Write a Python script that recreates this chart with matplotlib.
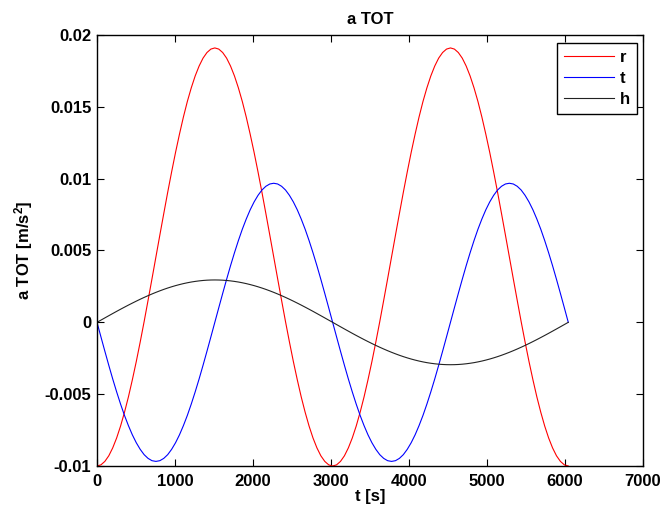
import numpy as np
import matplotlib
matplotlib.use("Agg")
import matplotlib.pyplot as plt

plt.rcParams['font.family'] = ['Liberation Sans', 'DejaVu Sans']
plt.rcParams['font.weight'] = 'bold'
plt.rcParams['font.size'] = 12
plt.rcParams['mathtext.fontset'] = 'custom'
plt.rcParams['mathtext.rm'] = 'Liberation Sans:bold'
plt.rcParams['mathtext.default'] = 'rm'

# sample times [s]
t_end = 6042
n_samples = 121
t = np.linspace(0, t_end, n_samples)

r_vals = [
    -0.01000, -0.00992, -0.00968, -0.00929, -0.00874, -0.00805, -0.00722, -0.00626,
    -0.00519, -0.00400, -0.00273, -0.00137, 0.00005, 0.00153, 0.00303, 0.00455,
    0.00607, 0.00757, 0.00905, 0.01047, 0.01183, 0.01310, 0.01429, 0.01537,
    0.01632, 0.01715, 0.01784, 0.01839, 0.01878, 0.01902, 0.01910, 0.01902,
    0.01878, 0.01839, 0.01784, 0.01715, 0.01632, 0.01537, 0.01429, 0.01310,
    0.01183, 0.01047, 0.00905, 0.00757, 0.00607, 0.00455, 0.00303, 0.00153,
    0.00005, -0.00137, -0.00273, -0.00400, -0.00519, -0.00626, -0.00722, -0.00805,
    -0.00874, -0.00929, -0.00968, -0.00992,
    -0.01000, -0.00992, -0.00968, -0.00929, -0.00874, -0.00805, -0.00722, -0.00626,
    -0.00519, -0.00400, -0.00273, -0.00137, 0.00005, 0.00153, 0.00303, 0.00455,
    0.00607, 0.00757, 0.00905, 0.01047, 0.01183, 0.01310, 0.01429, 0.01537,
    0.01632, 0.01715, 0.01784, 0.01839, 0.01878, 0.01902, 0.01910, 0.01902,
    0.01878, 0.01839, 0.01784, 0.01715, 0.01632, 0.01537, 0.01429, 0.01310,
    0.01183, 0.01047, 0.00905, 0.00757, 0.00607, 0.00455, 0.00303, 0.00153,
    0.00005, -0.00137, -0.00273, -0.00400, -0.00519, -0.00626, -0.00722, -0.00805,
    -0.00874, -0.00929, -0.00968, -0.00992,
    -0.01000]

t_vals = [
    0.0, -0.00101, -0.00201, -0.00299, -0.00394, -0.00484, -0.00569, -0.00648,
    -0.00719, -0.00783, -0.00838, -0.00884, -0.00921, -0.00947, -0.00963, -0.00968,
    -0.00963, -0.00947, -0.00921, -0.00884, -0.00838, -0.00783, -0.00719, -0.00648,
    -0.00569, -0.00484, -0.00394, -0.00299, -0.00201, -0.00101, 0.0, 0.00101,
    0.00201, 0.00299, 0.00394, 0.00484, 0.00569, 0.00648, 0.00719, 0.00783,
    0.00838, 0.00884, 0.00921, 0.00947, 0.00963, 0.00968, 0.00963, 0.00947,
    0.00921, 0.00884, 0.00838, 0.00783, 0.00719, 0.00648, 0.00569, 0.00484,
    0.00394, 0.00299, 0.00201, 0.00101,
    0.0, -0.00101, -0.00201, -0.00299, -0.00394, -0.00484, -0.00569, -0.00648,
    -0.00719, -0.00783, -0.00838, -0.00884, -0.00921, -0.00947, -0.00963, -0.00968,
    -0.00963, -0.00947, -0.00921, -0.00884, -0.00838, -0.00783, -0.00719, -0.00648,
    -0.00569, -0.00484, -0.00394, -0.00299, -0.00201, -0.00101, 0.0, 0.00101,
    0.00201, 0.00299, 0.00394, 0.00484, 0.00569, 0.00648, 0.00719, 0.00783,
    0.00838, 0.00884, 0.00921, 0.00947, 0.00963, 0.00968, 0.00963, 0.00947,
    0.00921, 0.00884, 0.00838, 0.00783, 0.00719, 0.00648, 0.00569, 0.00484,
    0.00394, 0.00299, 0.00201, 0.00101,
    0.0]

h_vals = [
    0.0, 0.000154, 0.000308, 0.000461, 0.000613, 0.000764, 0.000912, 0.001057,
    0.001200, 0.001339, 0.001475, 0.001607, 0.001734, 0.001856, 0.001974, 0.002086,
    0.002192, 0.002293, 0.002387, 0.002474, 0.002555, 0.002628, 0.002695, 0.002754,
    0.002806, 0.002849, 0.002885, 0.002914, 0.002934, 0.002946, 0.002950, 0.002946,
    0.002934, 0.002914, 0.002885, 0.002849, 0.002806, 0.002754, 0.002695, 0.002628,
    0.002555, 0.002474, 0.002387, 0.002293, 0.002192, 0.002086, 0.001974, 0.001856,
    0.001734, 0.001607, 0.001475, 0.001339, 0.001200, 0.001057, 0.000912, 0.000764,
    0.000613, 0.000461, 0.000308, 0.000154,
    0.0, -0.000154, -0.000308, -0.000461, -0.000613, -0.000764, -0.000912, -0.001057,
    -0.001200, -0.001339, -0.001475, -0.001607, -0.001734, -0.001856, -0.001974, -0.002086,
    -0.002192, -0.002293, -0.002387, -0.002474, -0.002555, -0.002628, -0.002695, -0.002754,
    -0.002806, -0.002849, -0.002885, -0.002914, -0.002934, -0.002946, -0.002950, -0.002946,
    -0.002934, -0.002914, -0.002885, -0.002849, -0.002806, -0.002754, -0.002695, -0.002628,
    -0.002555, -0.002474, -0.002387, -0.002293, -0.002192, -0.002086, -0.001974, -0.001856,
    -0.001734, -0.001607, -0.001475, -0.001339, -0.001200, -0.001057, -0.000912, -0.000764,
    -0.000613, -0.000461, -0.000308, -0.000154,
    0.0]

assert len(r_vals) == n_samples and len(t_vals) == n_samples and len(h_vals) == n_samples

x_ticks = [0, 1000, 2000, 3000, 4000, 5000, 6000, 7000]
y_ticks = [-0.01, -0.005, 0, 0.005, 0.01, 0.015, 0.02]
y_tick_labels = ['-0.01', '-0.005', '0', '0.005', '0.01', '0.015', '0.02']

fig = plt.figure(figsize=(6.63, 5.14), dpi=100)
ax = fig.add_axes([97/663, 48/514, 546/663, 431/514])

ax.plot(t, r_vals, color='#ff0000', lw=0.8, label='r')
ax.plot(t, t_vals, color='#0000ff', lw=0.8, label='t')
ax.plot(t, h_vals, color='#222222', lw=0.8, label='h')

ax.set_xlim(0, 7000)
ax.set_ylim(-0.01, 0.02)
ax.set_xticks(x_ticks)
ax.set_xticklabels([str(v) for v in x_ticks])
ax.set_yticks(y_ticks)
ax.set_yticklabels(y_tick_labels)
ax.tick_params(direction='in', length=5, width=0.8, top=True, right=True,
               labelsize=12)
ax.tick_params(axis='x', pad=6)
ax.tick_params(axis='y', pad=4)
for s in ax.spines.values():
    s.set_linewidth(1.0)

ax.set_title('a TOT', fontsize=12, fontweight='bold', pad=8)
ax.set_xlabel('t [s]', fontsize=12, fontweight='bold', labelpad=0)
ax.set_ylabel('a TOT [m/s$^2$]', fontsize=12, fontweight='bold', labelpad=7)

leg = ax.legend(loc='upper right', bbox_to_anchor=(0.989, 0.981), borderaxespad=0,
                handlelength=3.0, labelspacing=0.37, fancybox=False, framealpha=1,
                edgecolor='black', handletextpad=0.4, borderpad=0.4,
                prop={'weight': 'bold', 'size': 12})
leg.get_frame().set_linewidth(1.0)

fig.savefig('out.png', dpi=100)
